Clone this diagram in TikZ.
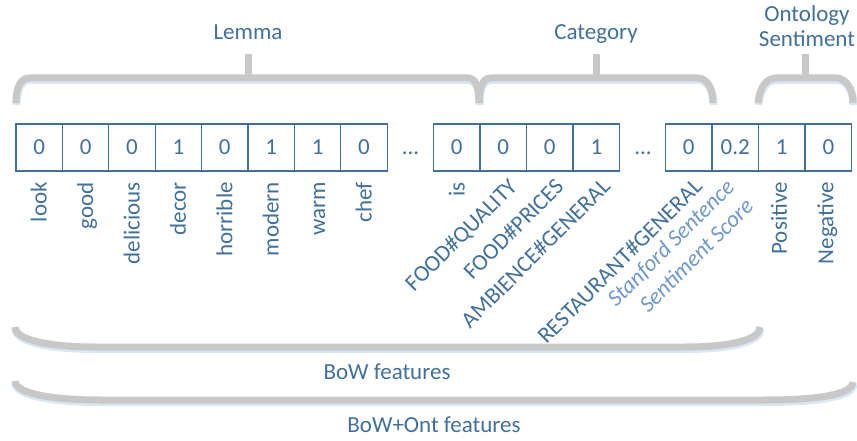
\documentclass[tikz,border=0pt]{standalone}
\usepackage{fontspec}
\setmainfont{Carlito}
\definecolor{tblue}{RGB}{65,112,156}
\definecolor{lblue}{RGB}{110,152,206}
\definecolor{bgray}{RGB}{200,200,200}
\definecolor{shblue}{RGB}{218,230,244}
\begin{document}
\begin{tikzpicture}[x=1pt,y=-1pt,
  every node/.style={text=tblue, font=\fontsize{23}{27}\selectfont, inner sep=0pt},
  cell/.style={draw=tblue, line width=1.3pt, minimum width=46.4pt, minimum height=47pt, anchor=center},
  vlab/.style={rotate=90, anchor=base east},
  dlab/.style={rotate=45, anchor=base east},
  bracepath/.style={draw=bgray, line width=7pt},
  braceshadow/.style={draw=shblue, line width=8pt}]
\useasboundingbox (0,0) rectangle (857,441);

% ---- braces: shadows
\begin{scope}[shift={(0.5,2)}]
\draw[braceshadow] (16,103) .. controls (16,86) and (21,78) .. (30,78) -- (468,78) .. controls (476,78) and (479,88) .. (479,103);
\draw[braceshadow] (479,103) .. controls (479,88) and (482,78) .. (491,78) -- (698,78) .. controls (708,78) and (713,90) .. (713,103);
\draw[braceshadow] (758,103) .. controls (759,90) and (765,78) .. (776,78) -- (836,78) .. controls (847,78) and (853,90) .. (853,103);
\draw[braceshadow] (15,327) .. controls (15,340) and (50,347) .. (95,347) -- (685,347) .. controls (730,347) and (760,340) .. (760,327);
\draw[braceshadow] (15,381) .. controls (15,394) and (55,400) .. (100,400) -- (765,400) .. controls (815,400) and (853,395) .. (853,382);
\end{scope}
% ---- braces
\draw[bracepath] (16,103) .. controls (16,86) and (21,78) .. (30,78) -- (468,78) .. controls (476,78) and (479,88) .. (479,103);
\draw[bracepath] (479,103) .. controls (479,88) and (482,78) .. (491,78) -- (698,78) .. controls (708,78) and (713,90) .. (713,103);
\draw[bracepath] (758,103) .. controls (759,90) and (765,78) .. (776,78) -- (836,78) .. controls (847,78) and (853,90) .. (853,103);
\draw[bracepath] (248,78) -- (248,54);
\draw[bracepath] (596,78) -- (596,54);
\draw[bracepath] (805,78) -- (805,54);
\draw[bracepath] (15,327) .. controls (15,340) and (50,347) .. (95,347) -- (685,347) .. controls (730,347) and (760,340) .. (760,327);
\draw[bracepath] (15,381) .. controls (15,394) and (55,400) .. (100,400) -- (765,400) .. controls (815,400) and (853,395) .. (853,382);

% ---- titles
\node[anchor=base] (lemma) at (248,39.5) {Lemma};
\node[anchor=base] (category) at (596,39.5) {Category};
\node[anchor=south, align=center, font=\fontsize{23}{25}\selectfont] (ontsent) at (807,47) {Ontology\\Sentiment};
\node[anchor=base] (bow) at (387,379) {BoW features};
\node[anchor=base] (bowont) at (434,432) {BoW+Ont features};

% ---- cells
\foreach \v [count=\i] in {0,0,0,1,0,1,1,0}
  \node[cell] (a\i) at ({39.2+46.4*(\i-1)},147.5) {\v};
\foreach \v [count=\i] in {0,0,0,1}
  \node[cell] (c\i) at ({456.6+46.6*(\i-1)},147.5) {\v};
\foreach \v [count=\i] in {0,0.2,1,0}
  \node[cell] (d\i) at ({688.6+46.6*(\i-1)},147.5) {\v};
\node[anchor=base] (dots1) at (410.5,154) {...};
\node[anchor=base] (dots2) at (643,154) {...};

% ---- labels
\foreach \w [count=\i] in {look,good,delicious,decor,horrible,modern,warm,chef}
  \node[vlab] (la\i) at ({39.2+46.4*(\i-1)+7.5},182) {\w};
\node[vlab] (lis) at (464.6,182) {is};
\node[dlab] (lc2) at (518.5,188) {FOOD\#QUALITY};
\node[dlab] (lc3) at (565,188) {FOOD\#PRICES};
\node[dlab] (lc4) at (611.5,188) {AMBIENCE\#GENERAL};
\node[dlab] (ld1) at (703.5,188) {RESTAURANT\#GENERAL};
\node[rotate=45, anchor=south east, align=right, text=lblue, font=\fontsize{23}{27}\selectfont\itshape] (ld2) at (755,208) {Stanford Sentence\\Sentiment Score};
\node[vlab] (ld3) at (786.8,182) {Positive};
\node[vlab] (ld4) at (833.4,182) {Negative};
\end{tikzpicture}
\end{document}
